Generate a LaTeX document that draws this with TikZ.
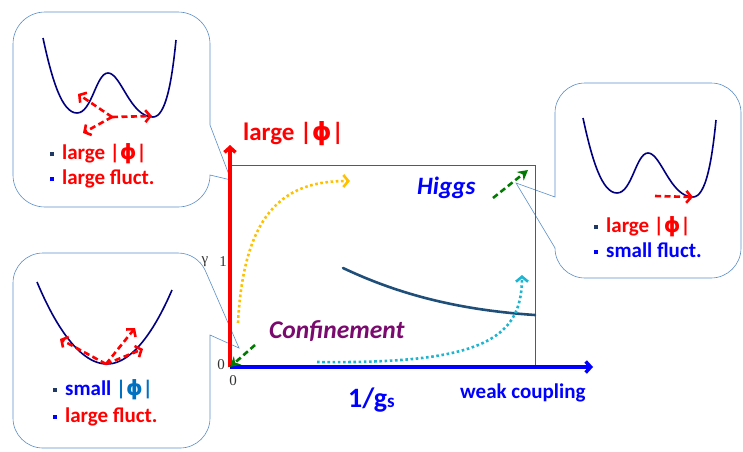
\documentclass[tikz,border=0pt]{standalone}
\usepackage{fontspec}
\setmainfont{Carlito}
\newfontfamily\tickfont{Liberation Serif}
\newfontfamily\phifont{DejaVu Sans}
\usetikzlibrary{arrows.meta}
\definecolor{phired}{HTML}{FF0000}
\definecolor{phiblue}{HTML}{0000FF}
\definecolor{absblue}{HTML}{0070C0}
\definecolor{wellnavy}{HTML}{000080}
\definecolor{bulletdk}{HTML}{1F3864}
\definecolor{calloutedge}{HTML}{5B8EC8}
\definecolor{curveblue}{HTML}{1F4E79}
\definecolor{dotyellow}{HTML}{FFC000}
\definecolor{dotcyan}{HTML}{1FB4CF}
\definecolor{arrgreen}{HTML}{007A00}
\definecolor{confpurple}{HTML}{7A0A6E}
\definecolor{framegray}{HTML}{595959}
\definecolor{tickgray}{HTML}{333333}

\newcommand{\sqbul}[1]{\textcolor{#1}{\rule[3pt]{4pt}{4pt}}\hspace{8pt}}
\newcommand{\absphi}{|{\phifont\bfseries ϕ}|}

\tikzset{
  callout/.style={draw=calloutedge, fill=white, line width=0.6pt},
  well/.style={draw=wellnavy, line width=1.6pt},
  fluct/.style={draw=phired, line width=2.6pt, dash pattern=on 6pt off 3.5pt,
    -{Straight Barb[length=5pt,width=12pt]}},
  flow/.style={line width=2.6pt, dash pattern=on 2.6pt off 2.6pt,
    -{Straight Barb[length=5pt,width=12pt]}},
  gofar/.style={draw=arrgreen, line width=2.6pt, dash pattern=on 6pt off 3.5pt,
    -{Stealth[length=10pt,width=11pt]}},
  boxtext/.style={font=\fontsize{21}{24}\selectfont\bfseries, anchor=base west, inner sep=0pt},
  bigtext/.style={font=\fontsize{25}{29}\selectfont\bfseries, anchor=base west, inner sep=0pt},
  ticktext/.style={font=\tickfont\fontsize{15}{17}\selectfont, text=tickgray, inner sep=0pt},
  dwell/.pic={
    \draw[well] (43,-38) .. controls (52,-80) and (62,-113) .. (77,-113)
      .. controls (92,-113) and (96,-73) .. (108,-73)
      .. controls (121,-73) and (130,-117) .. (153,-117)
      .. controls (166,-117) and (172,-80) .. (176,-40);
  }
}

\begin{document}
\begin{tikzpicture}[x=1pt, y=1pt]

\useasboundingbox (0,0) rectangle (743,-451);

% Callout: large phi, large fluctuations
\draw[callout] (45,-12) -- (178,-12) arc (90:0:32) -- (210,-125) -- (231,-180)
  -- (210,-175) arc (0:-90:32) -- (45,-207) arc (270:180:32) -- (13,-44)
  arc (180:90:32) -- cycle;
\pic at (0,0) {dwell};
\coordinate (tlo) at (112,-117);
\draw[fluct] (tlo) -- (78,-94);
\draw[fluct] (tlo) -- (152,-116);
\draw[fluct] (tlo) -- (83,-133);
\node[boxtext] (tl1) at (50,-159) {\sqbul{bulletdk}\textcolor{phired}{large \absphi}};
\node[boxtext] (tl2) at (50,-184) {\sqbul{phiblue}\textcolor{phired}{large fluct.}};

% Callout: small phi, large fluctuations
\draw[callout] (43,-253) -- (178,-253) arc (90:25:30) -- (239,-348) -- (210,-335)
  -- (210,-418) arc (0:-90:30) -- (43,-448) arc (270:180:30) -- (13,-283)
  arc (180:90:30) -- cycle;
\draw[well] (37,-282) parabola bend (107,-364) (172,-290);
\coordinate (blo) at (106,-364);
\draw[fluct] (blo) -- (60,-339);
\draw[fluct] (blo) -- (135,-328);
\draw[fluct] (blo) -- (143,-349);
\node[boxtext] (bl1) at (53,-395) {\sqbul{bulletdk}\textcolor{phiblue}{small} \textcolor{absblue}{\absphi}};
\node[boxtext] (bl2) at (53,-422) {\sqbul{phiblue}\textcolor{phired}{large fluct.}};

% Callout: large phi, small fluctuations
\draw[callout] (585,-83) -- (711,-83) arc (90:0:30) -- (741,-248) arc (0:-90:30)
  -- (585,-278) arc (270:180:30) -- (516,-183) -- (555,-197) -- (555,-113)
  arc (180:90:30) -- cycle;
\pic at (540,-80) {dwell};
\coordinate (ro) at (655,-196);
\draw[fluct] (ro) -- (693,-197);
\node[boxtext] (r1) at (594,-232) {\sqbul{bulletdk}\textcolor{phired}{large \absphi}};
\node[boxtext] (r2) at (594,-257) {\sqbul{phiblue}\textcolor{phiblue}{small fluct.}};

% Phase diagram
\draw[framegray, line width=0.8pt] (230,-367) rectangle (535,-165);
\draw[curveblue, line width=2.6pt, line cap=round] (343,-268)
  .. controls (400,-295) and (460,-310) .. (535,-315);

\coordinate (orig) at (230,-367);
\draw[phired, line width=3.5pt, -{Straight Barb[length=5pt,width=11pt]}] (orig) -- (230,-145);
\draw[phiblue, line width=3.5pt, -{Straight Barb[length=5pt,width=11pt]}] (orig) -- (593,-367);

\draw[flow, dotyellow] (238,-323) .. controls (244,-205) and (290,-181) .. (350,-181);
\draw[flow, dotcyan] (317,-362) .. controls (480,-364) and (522,-340) .. (522,-275);

\draw[gofar] (493,-198) -- (528,-170);
\draw[gofar] (255,-345) -- (orig);

\node[ticktext] (ygam) at (205,-262) {γ};
\node[ticktext] (yone) at (223,-262) {1};
\node[ticktext] (yzero) at (221,-365) {0};
\node[ticktext] (xzero) at (233,-381) {0};

\node[bigtext, text=phired] (ylab) at (243,-140) {large \absphi};
\node[bigtext, text=phiblue, font=\fontsize{25}{29}\selectfont\bfseries\itshape] (higgs) at (417,-194) {Higgs};
\node[bigtext, text=confpurple, font=\fontsize{25.5}{29}\selectfont\bfseries\itshape] (conf) at (269,-338) {Confinement};
\node[bigtext, text=phiblue, font=\fontsize{28}{32}\selectfont\bfseries] (xlab) at (348,-407) {1/g{\fontsize{19}{22}\selectfont s}};
\node[boxtext, text=phiblue, font=\fontsize{21}{24}\selectfont\bfseries] (weak) at (460,-398) {weak coupling};

\end{tikzpicture}
\end{document}
